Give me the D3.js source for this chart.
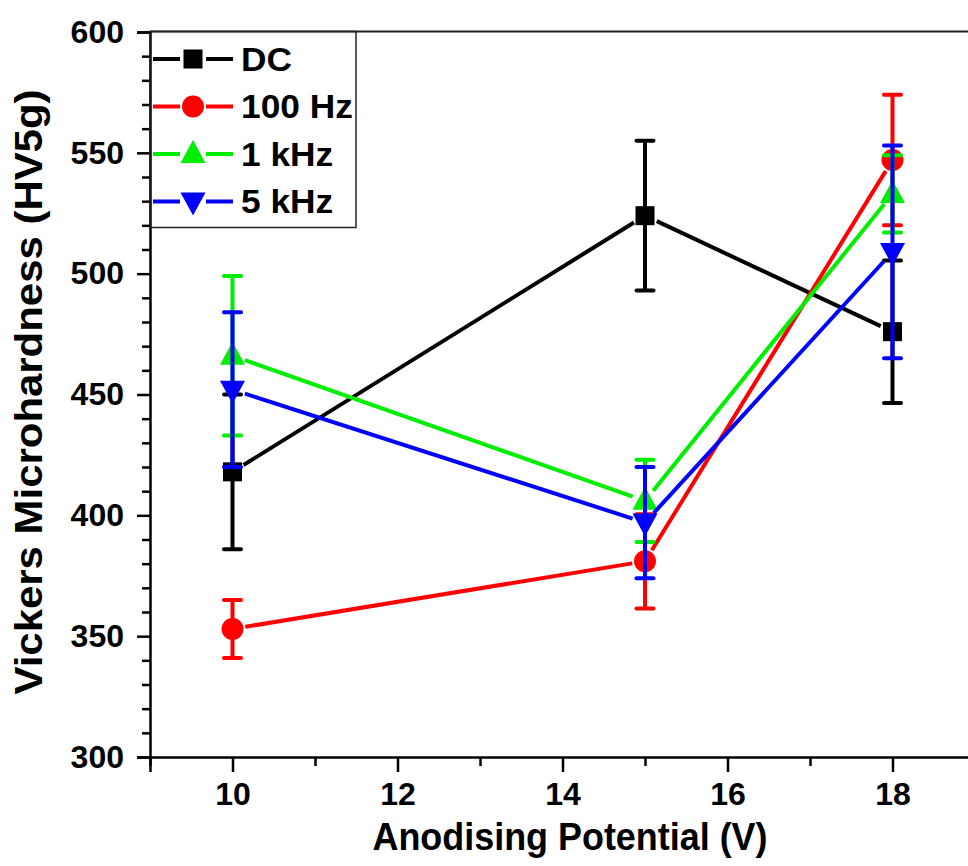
<!DOCTYPE html>
<html>
<head>
<meta charset="utf-8">
<script src="https://cdn.jsdelivr.net/npm/d3@7"></script>
<style>
  html, body { margin: 0; padding: 0; background: #fff; }
  svg { display: block; }
  text { font-family: "Liberation Sans", Arial, sans-serif; font-weight: bold; fill: #000; }
</style>
</head>
<body>
<svg id="chart" width="968" height="866"></svg>
<script>
// Anodising potential (V)
const potentials = [10, 15, 18];

// Series names and colours
const seriesNames = ["DC", "100 Hz", "1 kHz", "5 kHz"];
const seriesColors = ["#000000", "#ff0000", "#00ee00", "#0000ff"];
const seriesSymbols = ["square", "circle", "triangleUp", "triangleDown"];

// Vickers microhardness (HV5g) and error bar half-widths
const hvDC = [418, 524, 476];
const errDC = [32, 31, 29.5];
const hv100Hz = [353, 381, 547];
const err100Hz = [12, 19.5, 27];
const hv1kHz = [466, 406, 533];
const err1kHz = [33, 17, 16];
const hv5kHz = [452, 397, 509];
const err5kHz = [32, 23, 44];

// Axis ticks
const xMajorTicks = [10, 12, 14, 16, 18];
const xMinorTicks = [9, 11, 13, 15, 17, 19];
const yMajorTicks = [300, 350, 400, 450, 500, 550, 600];
const yMinorTicks = d3.range(300, 601, 10).filter(v => v % 50 !== 0);

const xLabel = "Anodising Potential (V)";
const yLabel = "Vickers Microhardness (HV5g)";

const series = seriesNames.map((name, i) => ({
  name,
  color: seriesColors[i],
  symbol: seriesSymbols[i],
  values: [hvDC, hv100Hz, hv1kHz, hv5kHz][i],
  errors: [errDC, err100Hz, err1kHz, err5kHz][i]
}));

const svg = d3.select("#chart");
const plotLeft = 150, plotRight = 975, plotTop = 32, plotBottom = 757;

const x = d3.scaleLinear().domain([9, 19]).range([plotLeft, plotRight]);
const y = d3.scaleLinear().domain([300, 600]).range([plotBottom, plotTop]);

// Frame top line
svg.append("line")
  .attr("x1", plotLeft).attr("x2", 968)
  .attr("y1", plotTop - 0.5).attr("y2", plotTop - 0.5)
  .attr("stroke", "#222").attr("stroke-width", 2);

// Y axis (major ticks with labels, minor ticks)
svg.append("g").attr("transform", `translate(${plotLeft},0)`)
  .call(d3.axisLeft(y).tickValues(yMajorTicks).tickSize(13).tickPadding(13).tickFormat(d3.format("d")));
svg.append("g").attr("transform", `translate(${plotLeft},0)`)
  .call(d3.axisLeft(y).tickValues(yMinorTicks).tickSize(8).tickFormat(""))
  .call(g => g.select(".domain").remove());

// X axis
svg.append("g").attr("transform", `translate(0,${plotBottom})`)
  .call(d3.axisBottom(x).tickValues(xMajorTicks).tickSize(15).tickPadding(10).tickFormat(d3.format("d")));
svg.append("g").attr("transform", `translate(0,${plotBottom})`)
  .call(d3.axisBottom(x).tickValues(xMinorTicks).tickSize(9).tickFormat(""))
  .call(g => g.select(".domain").remove());

svg.selectAll(".domain").attr("stroke", "#000").attr("stroke-width", 2.5);
svg.selectAll(".tick line").attr("stroke", "#000").attr("stroke-width", 2.5);
svg.selectAll(".tick text")
  .attr("font-family", "Liberation Sans, Arial, sans-serif")
  .attr("font-weight", "bold")
  .attr("font-size", 32)
  .attr("fill", "#000");

// Axis titles
svg.append("text")
  .attr("x", 570).attr("y", 850)
  .attr("text-anchor", "middle")
  .attr("font-size", 38)
  .attr("textLength", 395)
  .attr("lengthAdjust", "spacingAndGlyphs")
  .text(xLabel);

svg.append("text")
  .attr("transform", "translate(42,392) rotate(-90)")
  .attr("text-anchor", "middle")
  .attr("font-size", 38)
  .attr("textLength", 605)
  .attr("lengthAdjust", "spacingAndGlyphs")
  .text(yLabel);

// Marker shapes
function drawMarker(g, symbol, cx, cy, color) {
  if (symbol === "square") {
    g.append("rect").attr("x", cx - 9.5).attr("y", cy - 9.5)
      .attr("width", 19).attr("height", 19).attr("fill", color);
  } else if (symbol === "circle") {
    g.append("circle").attr("cx", cx).attr("cy", cy).attr("r", 11).attr("fill", color);
  } else if (symbol === "triangleUp") {
    g.append("path").attr("d", `M${cx},${cy - 14} L${cx + 12.5},${cy + 9} L${cx - 12.5},${cy + 9} Z`).attr("fill", color);
  } else {
    g.append("path").attr("d", `M${cx},${cy + 14} L${cx + 12.5},${cy - 9} L${cx - 12.5},${cy - 9} Z`).attr("fill", color);
  }
}

// Data series: connecting lines with gaps at markers, error bars, markers
const gap = 13;
series.forEach(s => {
  const g = svg.append("g");
  const pts = potentials.map((p, i) => [x(p), y(s.values[i])]);
  for (let i = 0; i < pts.length - 1; i++) {
    const [x1, y1] = pts[i], [x2, y2] = pts[i + 1];
    const len = Math.hypot(x2 - x1, y2 - y1);
    const ux = (x2 - x1) / len, uy = (y2 - y1) / len;
    g.append("line")
      .attr("x1", x1 + ux * gap).attr("y1", y1 + uy * gap)
      .attr("x2", x2 - ux * gap).attr("y2", y2 - uy * gap)
      .attr("stroke", s.color).attr("stroke-width", 4);
  }
  potentials.forEach((p, i) => {
    const cx = x(p);
    drawMarker(g, s.symbol, cx, y(s.values[i]), s.color);
    const hi = y(s.values[i] + s.errors[i]);
    const lo = y(s.values[i] - s.errors[i]);
    g.append("line").attr("x1", cx).attr("x2", cx).attr("y1", hi).attr("y2", lo)
      .attr("stroke", s.color).attr("stroke-width", 4);
    [hi, lo].forEach(yy => {
      g.append("line").attr("x1", cx - 8.5).attr("x2", cx + 8.5).attr("y1", yy).attr("y2", yy)
        .attr("stroke", s.color).attr("stroke-width", 4).attr("stroke-linecap", "round");
    });
  });
});

// Legend
const legend = svg.append("g");
legend.append("rect")
  .attr("x", plotLeft).attr("y", plotTop - 0.5).attr("width", 206).attr("height", 196)
  .attr("fill", "none").attr("stroke", "#222").attr("stroke-width", 1.5);
series.forEach((s, i) => {
  const cy = 59 + i * 47.5;
  legend.append("line").attr("x1", 153).attr("x2", 180).attr("y1", cy).attr("y2", cy)
    .attr("stroke", s.color).attr("stroke-width", 4);
  legend.append("line").attr("x1", 206).attr("x2", 233).attr("y1", cy).attr("y2", cy)
    .attr("stroke", s.color).attr("stroke-width", 4);
  drawMarker(legend, s.symbol, 193, cy, s.color);
  legend.append("text")
    .attr("transform", `translate(241,${cy + 11.5}) scale(1.07,1)`)
    .attr("font-size", 33).text(s.name);
});
</script>
</body>
</html>
